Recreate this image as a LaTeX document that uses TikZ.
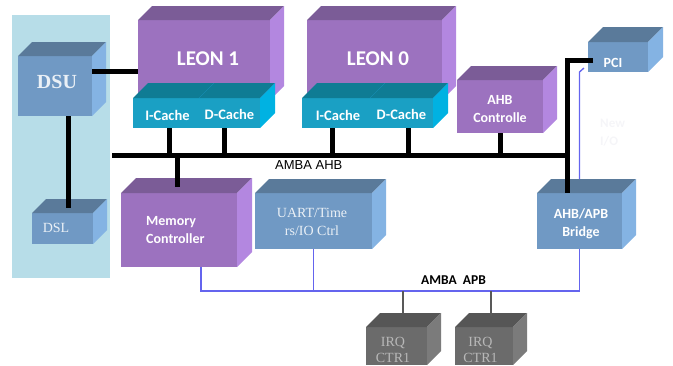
\documentclass[tikz,border=0pt]{standalone}
\usepackage{fontspec}
\setmainfont{Liberation Serif}
\newfontfamily\calfont{Carlito}
\newfontfamily\arifont{Liberation Sans}
\definecolor{panel}{HTML}{B7DDE8}
\definecolor{purF}{HTML}{9C72BF}
\definecolor{purT}{HTML}{7B5C97}
\definecolor{purS}{HTML}{B387E0}
\definecolor{cyaF}{HTML}{1AA0C4}
\definecolor{cyaT}{HTML}{0F7C94}
\definecolor{cyaS}{HTML}{00B2E2}
\definecolor{bluF}{HTML}{7099C4}
\definecolor{bluT}{HTML}{5A7A9A}
\definecolor{bluS}{HTML}{84B3E3}
\definecolor{gryF}{HTML}{6B6B6B}
\definecolor{gryT}{HTML}{565656}
\definecolor{gryS}{HTML}{7B7B7B}
\definecolor{apbcol}{HTML}{6464EE}
\definecolor{sertext}{HTML}{EAF0F6}
\definecolor{irqtext}{HTML}{B8B8B8}
\definecolor{faint}{HTML}{F5F5F8}
\tikzset{
  face/.style={draw=none, inner sep=0pt, outer sep=0pt, anchor=north west},
  bus/.style={line width=5pt, black, line join=miter},
  apb/.style={line width=1.3pt, apbcol},
  irqline/.style={line width=1.2pt, black!65},
  leontxt/.style={font=\calfont\bfseries\fontsize{21}{24}\selectfont, text=white, inner sep=0pt},
  cachetxt/.style={font=\calfont\bfseries\fontsize{14.5}{17}\selectfont, text=white, inner sep=0pt},
  boxtxt/.style={font=\calfont\bfseries\fontsize{14}{18}\selectfont, text=white, inner sep=0pt, align=center},
  sertxt/.style={font=\fontsize{14}{18}\selectfont, text=sertext, inner sep=0pt, align=center},
  irqtxt/.style={font=\fontsize{14}{16}\selectfont, text=irqtext, inner sep=0pt, align=center},
}
% name, x, y, w, h, depth, front, top, side
\newcommand\cubebox[9]{%
  \node[face, fill=#7, minimum width=#4pt, minimum height=#5pt] (#1) at (#2,#3) {};
  \fill[#8] (#1.north west) -- ++(#6,-#6) -- ([shift={(#6,-#6)}]#1.north east) -- (#1.north east) -- cycle;
  \fill[#9] (#1.north east) -- ++(#6,-#6) -- ([shift={(#6,-#6)}]#1.south east) -- (#1.south east) -- cycle;
}
\begin{document}
\begin{tikzpicture}[x=1pt,y=-1pt]
\useasboundingbox (0,0) rectangle (673,365);
\node[face, fill=panel, minimum width=98pt, minimum height=263pt] (panelbg) at (12,15) {};

% cubes
\cubebox{dsu}{18}{56}{74}{60}{14}{bluF}{bluT}{bluS}
\cubebox{dsl}{32}{213}{61}{31}{14}{bluF}{bluT}{bluS}
\cubebox{leon1}{138}{20}{132}{80}{14}{purF}{purT}{purS}
\cubebox{ic1}{133}{98}{66}{30}{15}{cyaF}{cyaT}{cyaS}
\cubebox{dc1}{199}{98}{61}{30}{15}{cyaF}{cyaT}{cyaS}
\cubebox{leon0}{307}{20}{135}{80}{14}{purF}{purT}{purS}
\cubebox{ic0}{302}{98}{68}{30}{15}{cyaF}{cyaT}{cyaS}
\cubebox{dc0}{370}{98}{63}{30}{15}{cyaF}{cyaT}{cyaS}
\cubebox{ahbc}{457}{80}{86}{53}{14}{purF}{purT}{purS}
\cubebox{pci}{588}{42}{60}{30}{15}{bluF}{bluT}{bluS}
\cubebox{mc}{121}{193}{116}{74}{15}{purF}{purT}{purS}
\cubebox{uart}{255}{193}{117}{56}{14}{bluF}{bluT}{bluS}
\cubebox{bridge}{537}{193}{85}{56}{14}{bluF}{bluT}{bluS}
\cubebox{irq1}{366}{327}{61}{38}{14}{gryF}{gryT}{gryS}
\cubebox{irq2}{455}{327}{58}{38}{14}{gryF}{gryT}{gryS}

% bus coordinates
\coordinate (ahbW) at (112,155);
\coordinate (ahbE) at (567,155);
\coordinate (apbW) at (201,291);

% AHB bus and connectors
\draw[bus] (ahbW) -- (ahbE);
\draw[bus] ([yshift=15pt]dsu.east) -- ([yshift=15pt]dsu.east -| leon1.west);
\draw[bus] ([xshift=13pt]dsu.south) -- ([xshift=13pt,yshift=5pt]dsu.south |- dsl.north);
\draw[bus] ([xshift=3pt]ic1.south) -- ([xshift=3pt]ic1.south |- ahbW);
\draw[bus] ([xshift=-5.5pt]dc1.south) -- ([xshift=-5.5pt]dc1.south |- ahbW);
\draw[bus] ([xshift=-4pt]ic0.south) -- ([xshift=-4pt]ic0.south |- ahbW);
\draw[bus] ([xshift=6.5pt]dc0.south) -- ([xshift=6.5pt]dc0.south |- ahbW);
\draw[bus] (ahbc.south) -- (ahbc.south |- ahbW);
\draw[bus] ([xshift=-2pt]mc.north |- ahbW) -- ([xshift=-2pt,yshift=6pt]mc.north);
\draw[bus] ([xshift=5pt,yshift=-3pt]pci.west) -| ([xshift=-12.5pt]bridge.north);

% APB bus and connectors
\draw[apb] ([shift={(-4pt,4pt)}]pci.south west) -- (bridge.north |- pci.south west) -- ([yshift=14pt]bridge.north);
\draw[apb] (bridge.south) |- ([xshift=22pt]mc.south |- apbW) -- ([xshift=22pt]mc.south);
\draw[apb] (uart.south) -- (uart.south |- apbW);
\draw[irqline] ([xshift=6.5pt]irq1.north |- apbW) -- ([xshift=6.5pt,yshift=14pt]irq1.north);
\draw[irqline] ([xshift=7pt]irq2.north |- apbW) -- ([xshift=7pt,yshift=11pt]irq2.north);

% texts
\node[leontxt] (leon1t) at (208,59) {LEON 1};
\node[leontxt] (leon0t) at (378,59) {LEON 0};
\node[cachetxt] (ic1t) at (167.5,115) {I-Cache};
\node[cachetxt] (dc1t) at (229.5,114) {D-Cache};
\node[cachetxt] (ic0t) at (338,115) {I-Cache};
\node[cachetxt] (dc0t) at (401.5,114) {D-Cache};
\node[boxtxt] (ahbct) at (500,109) {AHB\\Controlle};
\node[boxtxt] (pcit) at (613,63) {PCI};
\node[boxtxt, align=left, anchor=west] (mct) at (146,230) {Memory\\Controller};
\node[boxtxt] (bridget) at (581,223.5) {AHB/APB\\Bridge};
\node[font=\bfseries\fontsize{20}{22}\selectfont, text=sertext, inner sep=0pt] (dsut) at (57,82) {DSU};
\node[sertxt] (dslt) at (56,228) {DSL};
\node[sertxt] (uartt) at (312,222) {UART/Time\\rs/IO Ctrl};
\node[irqtxt] (irq1t) at (393,349.5) {IRQ\\CTR1};
\node[irqtxt] (irq2t) at (480.5,349.5) {IRQ\\CTR1};
\node[font=\arifont\fontsize{13}{15}\selectfont, inner sep=0pt, anchor=west] (ahblbl) at (275,165) {AMBA AHB};
\node[font=\calfont\bfseries\fontsize{13.5}{15}\selectfont, inner sep=0pt] (apblbl) at (453.5,280) {AMBA\ \ APB};
\node[font=\calfont\bfseries\fontsize{13}{18}\selectfont, text=faint, inner sep=0pt, align=left, anchor=west] (newio) at (600,133) {New\\I/O};
\end{tikzpicture}
\end{document}
